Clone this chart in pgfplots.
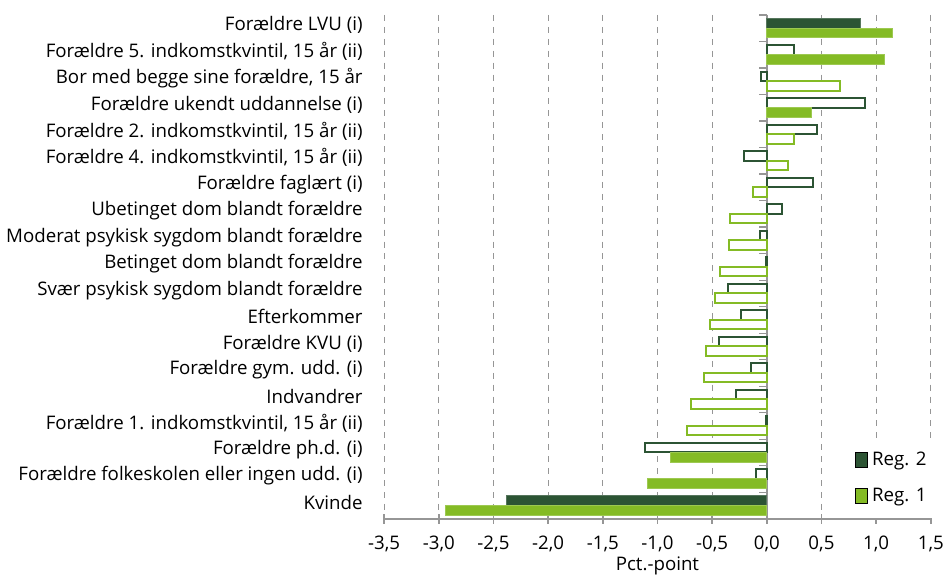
\documentclass[border=0pt]{standalone}
\usepackage{pgfplots}
\pgfplotsset{compat=1.18}
\usepackage{fontspec}
\setmainfont{Open Sans}

\definecolor{regdark}{RGB}{44,84,52}
\definecolor{reglight}{RGB}{132,187,37}
\definecolor{axgrey}{RGB}{150,150,150}

\begin{document}
\fontsize{9.4}{11}\selectfont
\begin{tikzpicture}
  \begin{axis}[
      scale only axis,
      width=274bp,
      height=252.5bp,
      xbar,
      bar width=0.36,
      y dir=reverse,
      ymin=-0.5, ymax=18.5,
      xmin=-3.5, xmax=1.5,
      xtick={-3.5,-3,...,1.5},
      ytick={0,...,18},
      yticklabels={
        Forældre LVU (i),
        {Forældre 5. indkomstkvintil, 15 år (ii)},
        {Bor med begge sine forældre, 15 år},
        Forældre ukendt uddannelse (i),
        {Forældre 2. indkomstkvintil, 15 år (ii)},
        {Forældre 4. indkomstkvintil, 15 år (ii)},
        Forældre faglært (i),
        Ubetinget dom blandt forældre,
        Moderat psykisk sygdom blandt forældre,
        Betinget dom blandt forældre,
        Svær psykisk sygdom blandt forældre,
        Efterkommer,
        Forældre KVU (i),
        Forældre gym. udd. (i),
        Indvandrer,
        {Forældre 1. indkomstkvintil, 15 år (ii)},
        Forældre ph.d. (i),
        Forældre folkeskolen eller ingen udd. (i),
        Kvinde},
      axis x line*=bottom,
      axis y line*=left,
      y axis line style={draw=none},
      ytick style={draw=none},
      x axis line style={axgrey, line width=0.8pt},
      xtick style={axgrey, line width=0.8pt},
      xtick align=center,
      major tick length=5pt,
      xmajorgrids,
      major grid style={axgrey, dashed, line width=0.6pt},
      /pgf/number format/.cd, use comma, fixed, fixed zerofill, precision=1, assume math mode=true,
      /pgfplots/.cd,
      xticklabel style={font=\fontsize{9.4}{11}\selectfont, yshift=-3bp},
      yticklabel style={font=\fontsize{9.4}{11}\selectfont, xshift=-2.5bp, yshift=1.5bp},
      xlabel={Pct.-point},
      xlabel style={font=\fontsize{9.4}{11}\selectfont, yshift=4bp},
      legend style={at={(1,0)}, anchor=south east, xshift=4bp, draw=none, fill=white,
        font=\fontsize{9.4}{11}\selectfont, row sep=6pt, inner xsep=4pt, inner ysep=5pt},
      legend cell align=left,
      legend image code/.code={\fill[#1] (2bp,-3.75bp) rectangle (8bp,3.75bp);},
    ]
    % nullinjen med små streger mellem kategorierne
    \draw[axgrey, line width=0.8pt] (axis cs:0,-0.5) -- (axis cs:0,18.5);
    \pgfplotsinvokeforeach{-0.5,0.5,...,18.5}{
      \draw[axgrey, line width=0.6pt] (axis cs:0,#1) -- ([xshift=-4pt]axis cs:0,#1);
    }

    % Reg. 2, signifikant
    \addplot[forget plot, bar shift=-0.18, fill=regdark, draw=regdark!80!white, line width=0.5pt]
    coordinates {(0.86,0) (-2.38,18)};
    % Reg. 2, ikke signifikant
    \addplot[forget plot, bar shift=-0.18, fill=white, draw=regdark, line width=1pt]
    coordinates {
        (0.25,1) (-0.05,2) (0.90,3) (0.46,4) (-0.21,5) (0.42,6)
        (0.14,7) (-0.06,8) (-0.01,9) (-0.355,10) (-0.24,11) (-0.44,12)
        (-0.145,13) (-0.28,14) (-0.01,15) (-1.11,16) (-0.095,17)
      };
    % Reg. 1, signifikant
    \addplot[forget plot, bar shift=0.18, fill=reglight, draw=reglight!80!white, line width=0.5pt]
    coordinates {(1.15,0) (1.08,1) (0.41,3) (-0.88,16) (-1.09,17) (-2.94,18)};
    % Reg. 1, ikke signifikant
    \addplot[forget plot, bar shift=0.18, fill=white, draw=reglight, line width=1pt]
    coordinates {
        (0.67,2) (0.25,4) (0.19,5) (-0.13,6) (-0.34,7) (-0.35,8)
        (-0.43,9) (-0.47,10) (-0.52,11) (-0.56,12) (-0.57,13)
        (-0.69,14) (-0.73,15)
      };

    \addlegendimage{fill=regdark}
    \addlegendentry{Reg. 2}
    \addlegendimage{fill=reglight}
    \addlegendentry{Reg. 1}
  \end{axis}
  % luft over tegneområdet som i forlægget
  \path ([yshift=7.5bp]current axis.north);
\end{tikzpicture}
\end{document}
